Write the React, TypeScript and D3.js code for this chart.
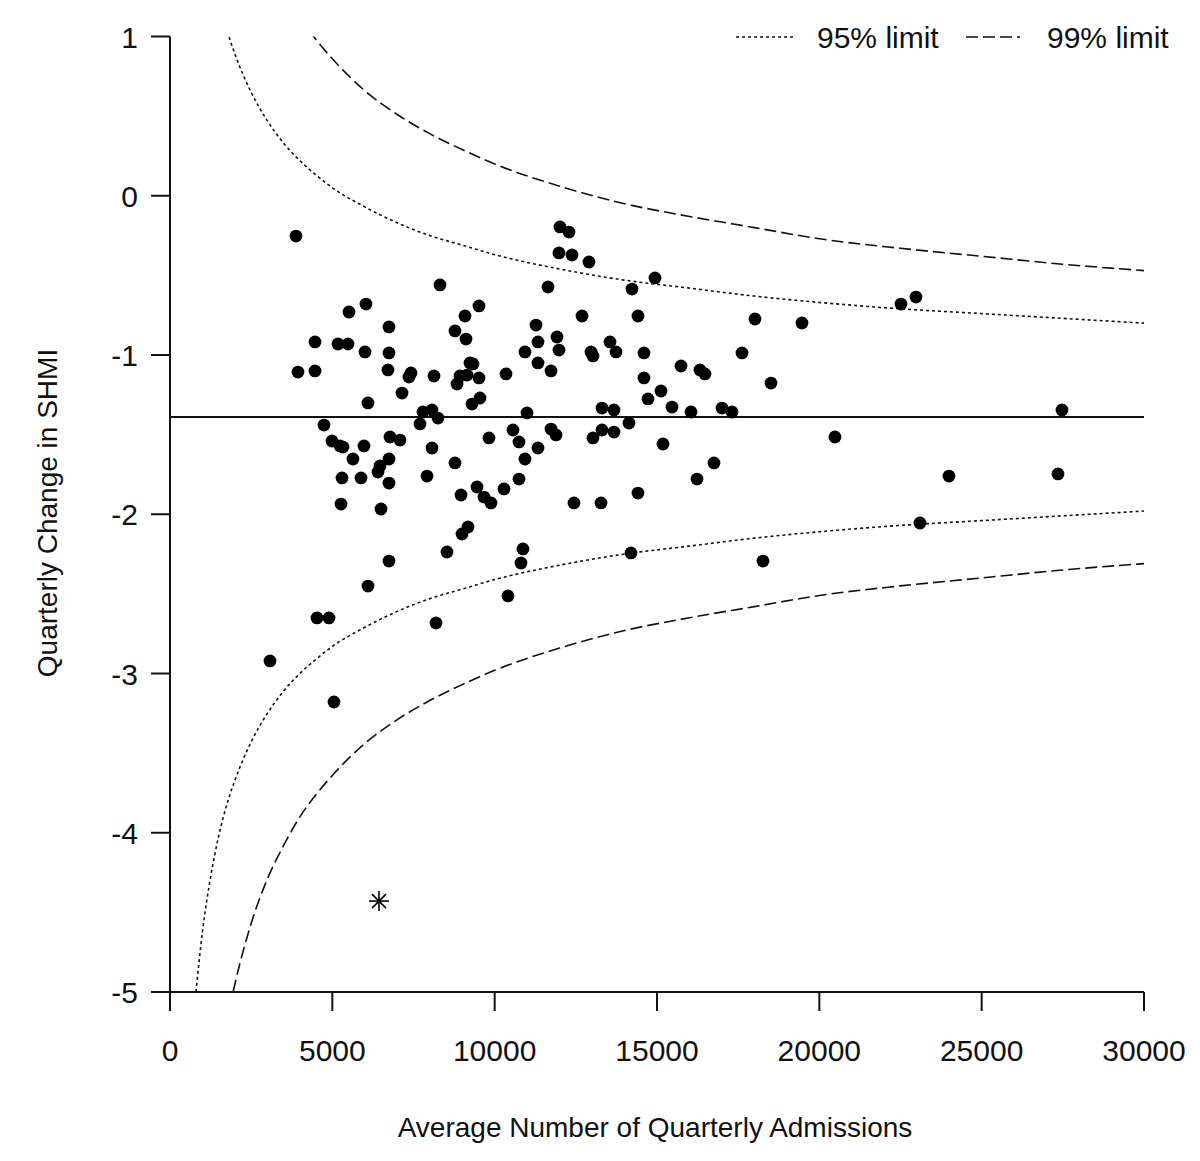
import React from "react";
import * as d3 from "d3";

// ---- Data ----
const admissions = [
  3881, 3080, 3942, 4466, 4466, 4528, 4897, 4743, 4990, 5236, 5328, 5051, 5174, 5482, 5513, 6037, 6006, 5975, 5636, 5298,
  5267, 5883, 6098, 6098, 6745, 6745, 6714, 6776, 7084, 6745, 6468, 6406, 6745, 6499, 6745, 7146, 7423, 7361, 8131, 8316,
  7792, 8070, 8254, 7700, 8070, 7916, 8193, 8532, 8778, 9117, 9086, 9517, 9240, 9332, 8932, 9148, 8840, 9517, 9548, 9302,
  9825, 8778, 8963, 9456, 9671, 9887, 9178, 8994, 10287, 10410, 12012, 12289, 11981, 12382, 12905, 14938, 14230, 11642, 12690, 14414,
  18018, 11273, 11334, 11920, 11981, 10934, 12967, 13028, 13552, 13737, 14599, 17618, 11334, 11735, 15739, 16324, 16478, 10349, 14599, 18511,
  15123, 14722, 15462, 16047, 17002, 17310, 13306, 13675, 10996, 14137, 10564, 10749, 11735, 11889, 13028, 13306, 13675, 11334, 15184, 10934,
  16755, 10749, 16232, 14414, 12443, 13275, 10872, 10811, 14199, 18264, 19466, 22515, 22977, 27474, 20482, 23993, 27350, 23100,
];
const shmiChange = [
  -0.253, -2.921, -1.107, -0.918, -1.1, -2.651, -2.651, -1.44, -1.54, -1.571, -1.578, -3.179, -0.931, -0.931, -0.73, -0.68, -0.981, -1.571, -1.653, -1.772,
  -1.936, -1.772, -1.301, -2.451, -0.824, -0.987, -1.094, -1.515, -1.534, -1.653, -1.697, -1.735, -1.804, -1.967, -2.294, -1.239, -1.113, -1.138, -1.132, -0.56,
  -1.358, -1.345, -1.396, -1.433, -1.584, -1.76, -2.683, -2.237, -0.849, -0.9, -0.755, -0.692, -1.05, -1.056, -1.132, -1.126, -1.182, -1.144, -1.27, -1.308,
  -1.521, -1.678, -1.879, -1.829, -1.892, -1.929, -2.08, -2.124, -1.841, -2.513, -0.196, -0.228, -0.359, -0.372, -0.416, -0.516, -0.586, -0.573, -0.755, -0.755,
  -0.774, -0.812, -0.918, -0.887, -0.969, -0.981, -0.981, -1.006, -0.918, -0.981, -0.987, -0.987, -1.05, -1.1, -1.069, -1.094, -1.119, -1.119, -1.144, -1.176,
  -1.226, -1.276, -1.327, -1.358, -1.333, -1.358, -1.333, -1.345, -1.364, -1.427, -1.471, -1.546, -1.465, -1.502, -1.521, -1.471, -1.484, -1.584, -1.559, -1.653,
  -1.678, -1.779, -1.779, -1.867, -1.929, -1.929, -2.218, -2.306, -2.243, -2.294, -0.799, -0.68, -0.636, -1.345, -1.515, -1.76, -1.747, -2.055,
];
const outlierAdmissions = [6437];
const outlierChange = [-4.429];

const meanChange = -1.39;

const limitAdmissions = [800, 1000, 1250, 1500, 1800, 2000, 2500, 3000, 3500, 4000, 4500, 5000, 6000, 7000, 8000, 9000, 10000, 12000, 14000, 16000, 18000, 20000, 22500, 25000, 27500, 30000];
const upper95 = [2.22, 1.84, 1.5, 1.24, 1.01, 0.89, 0.65, 0.47, 0.33, 0.22, 0.13, 0.05, -0.07, -0.17, -0.25, -0.31, -0.37, -0.46, -0.53, -0.58, -0.63, -0.67, -0.71, -0.74, -0.77, -0.8];
const lower95 = [-5.0, -4.62, -4.28, -4.02, -3.79, -3.67, -3.43, -3.25, -3.11, -3.0, -2.91, -2.83, -2.71, -2.61, -2.53, -2.47, -2.41, -2.32, -2.25, -2.2, -2.15, -2.11, -2.07, -2.04, -2.01, -1.98];
const upper99 = [4.23, 3.64, 3.11, 2.72, 2.36, 2.17, 1.79, 1.51, 1.3, 1.12, 0.98, 0.86, 0.66, 0.51, 0.39, 0.29, 0.2, 0.06, -0.05, -0.13, -0.2, -0.27, -0.33, -0.38, -0.43, -0.47];
const lower99 = [-7.01, -6.42, -5.89, -5.5, -5.14, -4.95, -4.57, -4.29, -4.08, -3.9, -3.76, -3.64, -3.44, -3.29, -3.17, -3.07, -2.98, -2.84, -2.73, -2.65, -2.58, -2.51, -2.45, -2.4, -2.35, -2.31];

const xTicks = [0, 5000, 10000, 15000, 20000, 25000, 30000];
const yTicks = [1, 0, -1, -2, -3, -4, -5];
const legendLabels = ["95% limit", "99% limit"];

const FONT = "'Liberation Sans', Arial, sans-serif";
const INK = "#111";

export default function App() {
  const W = 1200, H = 1161;
  const x = d3.scaleLinear().domain([0, 30000]).range([170, 1144]);
  const y = d3.scaleLinear().domain([-5, 1]).range([992, 36.5]);
  const [x0, x1] = x.range();
  const [yb, yt] = y.range();

  const line = d3
    .line<number>()
    .x((_, i) => x(limitAdmissions[i]))
    .y((d) => y(d))
    .curve(d3.curveMonotoneX);

  const dotted = "3,3";
  const dashed = "12,5";

  return (
    <svg width={W} height={H} style={{ position: "absolute", left: 0, top: 0, background: "#fff" }} fontFamily={FONT}>
      <defs>
        <clipPath id="plot">
          <rect x={x0} y={yt} width={x1 - x0} height={yb - yt} />
        </clipPath>
      </defs>

      {/* limits */}
      <g clipPath="url(#plot)" fill="none" stroke={INK} strokeWidth={1.6}>
        <path d={line(upper95) || ""} strokeDasharray={dotted} />
        <path d={line(lower95) || ""} strokeDasharray={dotted} />
        <path d={line(upper99) || ""} strokeDasharray={dashed} />
        <path d={line(lower99) || ""} strokeDasharray={dashed} />
        <line x1={x0} x2={x1} y1={y(meanChange)} y2={y(meanChange)} strokeWidth={2} />
      </g>

      {/* points */}
      <g fill="#000">
        {admissions.map((a, i) => (
          <circle key={i} cx={x(a)} cy={y(shmiChange[i])} r={6.4} />
        ))}
      </g>
      {outlierAdmissions.map((a, i) => {
        const cx = x(a), cy = y(outlierChange[i]);
        const r = 10, q = 7;
        return (
          <g key={i} stroke="#000" strokeWidth={1.6}>
            <line x1={cx - r} x2={cx + r} y1={cy} y2={cy} />
            <line x1={cx} x2={cx} y1={cy - r} y2={cy + r} />
            <line x1={cx - q} x2={cx + q} y1={cy - q} y2={cy + q} />
            <line x1={cx - q} x2={cx + q} y1={cy + q} y2={cy - q} />
          </g>
        );
      })}

      {/* axes */}
      <g stroke={INK} strokeWidth={2} fill="none">
        <line x1={x0} x2={x1} y1={yb} y2={yb} />
        {xTicks.map((t) => (
          <line key={t} x1={x(t)} x2={x(t)} y1={yb} y2={yb + 19} />
        ))}
        <line x1={x0} x2={x0} y1={yt} y2={yb} />
        {yTicks.map((t) => (
          <line key={t} x1={x0 - 19} x2={x0} y1={y(t)} y2={y(t)} />
        ))}
      </g>
      <g fill={INK} fontSize={30}>
        {xTicks.map((t) => (
          <text key={t} x={x(t)} y={1061} textAnchor="middle">{t}</text>
        ))}
        {yTicks.map((t) => (
          <text key={t} x={138} y={y(t) + 11} textAnchor="end">{t}</text>
        ))}
      </g>

      <text x={655} y={1137} fontSize={28} textAnchor="middle" fill={INK}>Average Number of Quarterly Admissions</text>
      <text transform="translate(57,513) rotate(-90)" fontSize={28} textAnchor="middle" fill={INK}>Quarterly Change in SHMI</text>

      {/* legend */}
      <g stroke={INK} strokeWidth={1.6}>
        <line x1={736} x2={793} y1={37} y2={37} strokeDasharray={dotted} />
        <line x1={966} x2={1020} y1={37} y2={37} strokeDasharray={dashed} />
      </g>
      <g fill={INK} fontSize={30}>
        <text x={817} y={48}>{legendLabels[0]}</text>
        <text x={1047} y={48}>{legendLabels[1]}</text>
      </g>
    </svg>
  );
}
